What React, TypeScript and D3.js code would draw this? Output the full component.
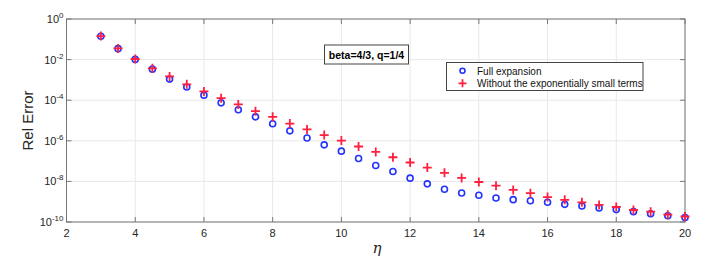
import React from "react";
import * as d3 from "d3";

const etaValues = [3, 3.5, 4, 4.5, 5, 5.5, 6, 6.5, 7, 7.5, 8, 8.5, 9, 9.5, 10, 10.5, 11, 11.5, 12, 12.5, 13, 13.5, 14, 14.5, 15, 15.5, 16, 16.5, 17, 17.5, 18, 18.5, 19, 19.5, 20];
// log10 of relative error
const fullLog = [-0.85, -1.46, -1.99, -2.47, -2.96, -3.35, -3.75, -4.13, -4.47, -4.82, -5.16, -5.51, -5.86, -6.2, -6.51, -6.87, -7.22, -7.51, -7.84, -8.12, -8.39, -8.57, -8.68, -8.82, -8.9, -8.95, -9.03, -9.13, -9.21, -9.31, -9.39, -9.49, -9.59, -9.69, -9.78];
const noExpLog = [-0.84, -1.45, -1.97, -2.43, -2.83, -3.22, -3.57, -3.9, -4.21, -4.54, -4.82, -5.15, -5.44, -5.72, -5.99, -6.28, -6.55, -6.81, -7.07, -7.32, -7.58, -7.83, -8.03, -8.21, -8.42, -8.58, -8.77, -8.91, -9.03, -9.16, -9.26, -9.41, -9.49, -9.64, -9.73];
const xTicks = [2, 4, 6, 8, 10, 12, 14, 16, 18, 20];
const yTickExps = [0, -2, -4, -6, -8, -10];
const seriesNames = ["Full expansion", "Without the exponentially small terms"];
const annotation = "beta=4/3, q=1/4";

const W = 709, H = 261;
const L = 66.5, R = 685, T = 19, B = 222;
const blue = "#2233ff";
const red = "#ff1f3f";
const axisColor = "#777";
const textColor = "#262626";

export default function App() {
  const x = d3.scaleLinear().domain([2, 20]).range([L, R]);
  const y = d3.scaleLog().domain([1e-10, 1]).range([B, T]);
  const font = "Liberation Sans, Arial, sans-serif";
  return (
    <svg width={W} height={H} style={{ position: "absolute", left: 0, top: 0, background: "#fff" }}>
      <rect x={0} y={0} width={W} height={H} fill="#fff" />
      {/* grid */}
      {xTicks.map((t) => (
        <line key={"gx" + t} x1={x(t)} x2={x(t)} y1={T} y2={B} stroke="#e8e8e8" strokeWidth={1} />
      ))}
      {yTickExps.map((e) => (
        <line key={"gy" + e} x1={L} x2={R} y1={y(Math.pow(10, e))} y2={y(Math.pow(10, e))} stroke="#e8e8e8" strokeWidth={1} />
      ))}
      {/* box */}
      <rect x={L} y={T} width={R - L} height={B - T} fill="none" stroke={axisColor} strokeWidth={1} />
      {/* ticks */}
      {xTicks.map((t) => (
        <g key={"tx" + t}>
          <line x1={x(t)} x2={x(t)} y1={B} y2={B - 5} stroke={axisColor} />
          <line x1={x(t)} x2={x(t)} y1={T} y2={T + 5} stroke={axisColor} />
          <text x={x(t)} y={237} textAnchor="middle" fontFamily={font} fontSize={11} fill={textColor}>{t}</text>
        </g>
      ))}
      {yTickExps.map((e) => {
        const yy = y(Math.pow(10, e));
        return (
          <g key={"ty" + e}>
            <line x1={L} x2={L + 5} y1={yy} y2={yy} stroke={axisColor} />
            <line x1={R} x2={R - 5} y1={yy} y2={yy} stroke={axisColor} />
            <text x={L - 3} y={yy + 4} textAnchor="end" fontFamily={font} fontSize={11} fill={textColor}>
              10<tspan dy={-5} fontSize={8}>{e}</tspan>
            </text>
          </g>
        );
      })}
      {/* axis labels */}
      <text x={377} y={253} textAnchor="middle" fontFamily="DejaVu Serif, serif" fontStyle="italic" fontSize={15} fill={textColor}>η</text>
      <text transform={`translate(33,${(T + B) / 2}) rotate(-90)`} textAnchor="middle" fontFamily={font} fontSize={15} fill={textColor}>Rel Error</text>
      {/* data */}
      {etaValues.map((v, i) => (
        <circle key={"c" + i} cx={x(v)} cy={y(Math.pow(10, fullLog[i]))} r={3} fill="none" stroke={blue} strokeWidth={1.6} />
      ))}
      {etaValues.map((v, i) => {
        const cx = x(v), cy = y(Math.pow(10, noExpLog[i]));
        return (
          <path key={"p" + i} d={`M${cx - 4.5},${cy}H${cx + 4.5}M${cx},${cy - 4.5}V${cy + 4.5}`} stroke={red} strokeWidth={1.8} fill="none" />
        );
      })}
      {/* annotation */}
      <rect x={324.5} y={45} width={84} height={19} fill="#fff" stroke="#444" strokeWidth={1} />
      <text x={366.5} y={58.5} textAnchor="middle" fontFamily={font} fontWeight="bold" fontSize={10.5} fill="#000">{annotation}</text>
      {/* legend */}
      <rect x={446.5} y={62.5} width={196.5} height={28} fill="#fff" stroke="#444" strokeWidth={1} />
      <circle cx={462.5} cy={70.7} r={2.5} fill="none" stroke={blue} strokeWidth={1.6} />
      <path d={`M${458.5},${83.3}H${466.5}M${462.5},${79.3}V${87.3}`} stroke={red} strokeWidth={1.8} />
      <text x={477} y={74.5} fontFamily={font} fontSize={10} fill="#111">{seriesNames[0]}</text>
      <text x={477} y={87} fontFamily={font} fontSize={10} fill="#111">{seriesNames[1]}</text>
    </svg>
  );
}
